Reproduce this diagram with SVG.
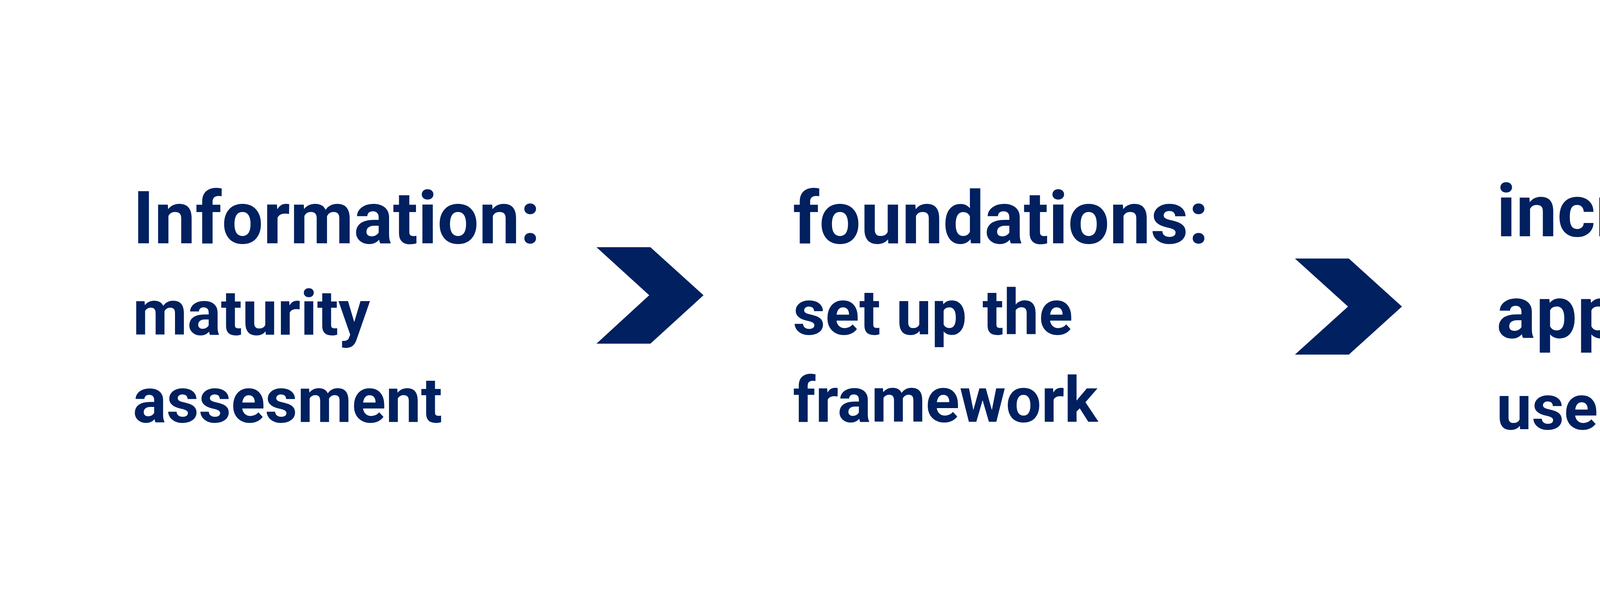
<svg xmlns="http://www.w3.org/2000/svg" width="6908" height="1562" viewBox="0 0 6908 1562">
  <style>
    .t { font-family: Roboto, "Liberation Sans", sans-serif; font-weight: 700; fill: #002060; }
    .h { font-size: 188px; }
    .s { font-size: 161px; }
    .chev { fill: #002060; }
  </style>
  <rect width="6908" height="1562" fill="#ffffff"/>
  <g id="node-information">
    <text class="t h" x="340" y="623">Information:</text>
    <text class="t s" x="340" y="857">maturity</text>
    <text class="t s" x="340" y="1081">assesment</text>
  </g>
  <g id="node-foundations">
    <text class="t h" x="2030" y="623">foundations:</text>
    <text class="t s" x="2030" y="856">set up the</text>
    <text class="t s" x="2030" y="1080">framework</text>
  </g>
  <g id="node-incremental">
    <text class="t h" x="3831" y="605">incremental</text>
    <text class="t h" x="3831" y="865">approach:</text>
    <text class="t s" x="3831" y="1099">use cases</text>
  </g>
  <g id="node-adoption">
    <text class="t h" x="5605" y="587">company-</text>
    <text class="t h" x="5605" y="847">wide</text>
    <text class="t h" x="5605" y="1109">adoption</text>
  </g>
  <g id="connectors">
    <polygon class="chev" points="1527,633 1665,633 1801,756 1665,880 1527,880 1662,756"/>
    <polygon class="chev" points="3315,662 3453,662 3589,785 3453,908 3315,908 3451,785"/>
    <polygon class="chev" points="5097,633 5235,633 5371,756 5235,880 5097,880 5232,756"/>
  </g>
</svg>
